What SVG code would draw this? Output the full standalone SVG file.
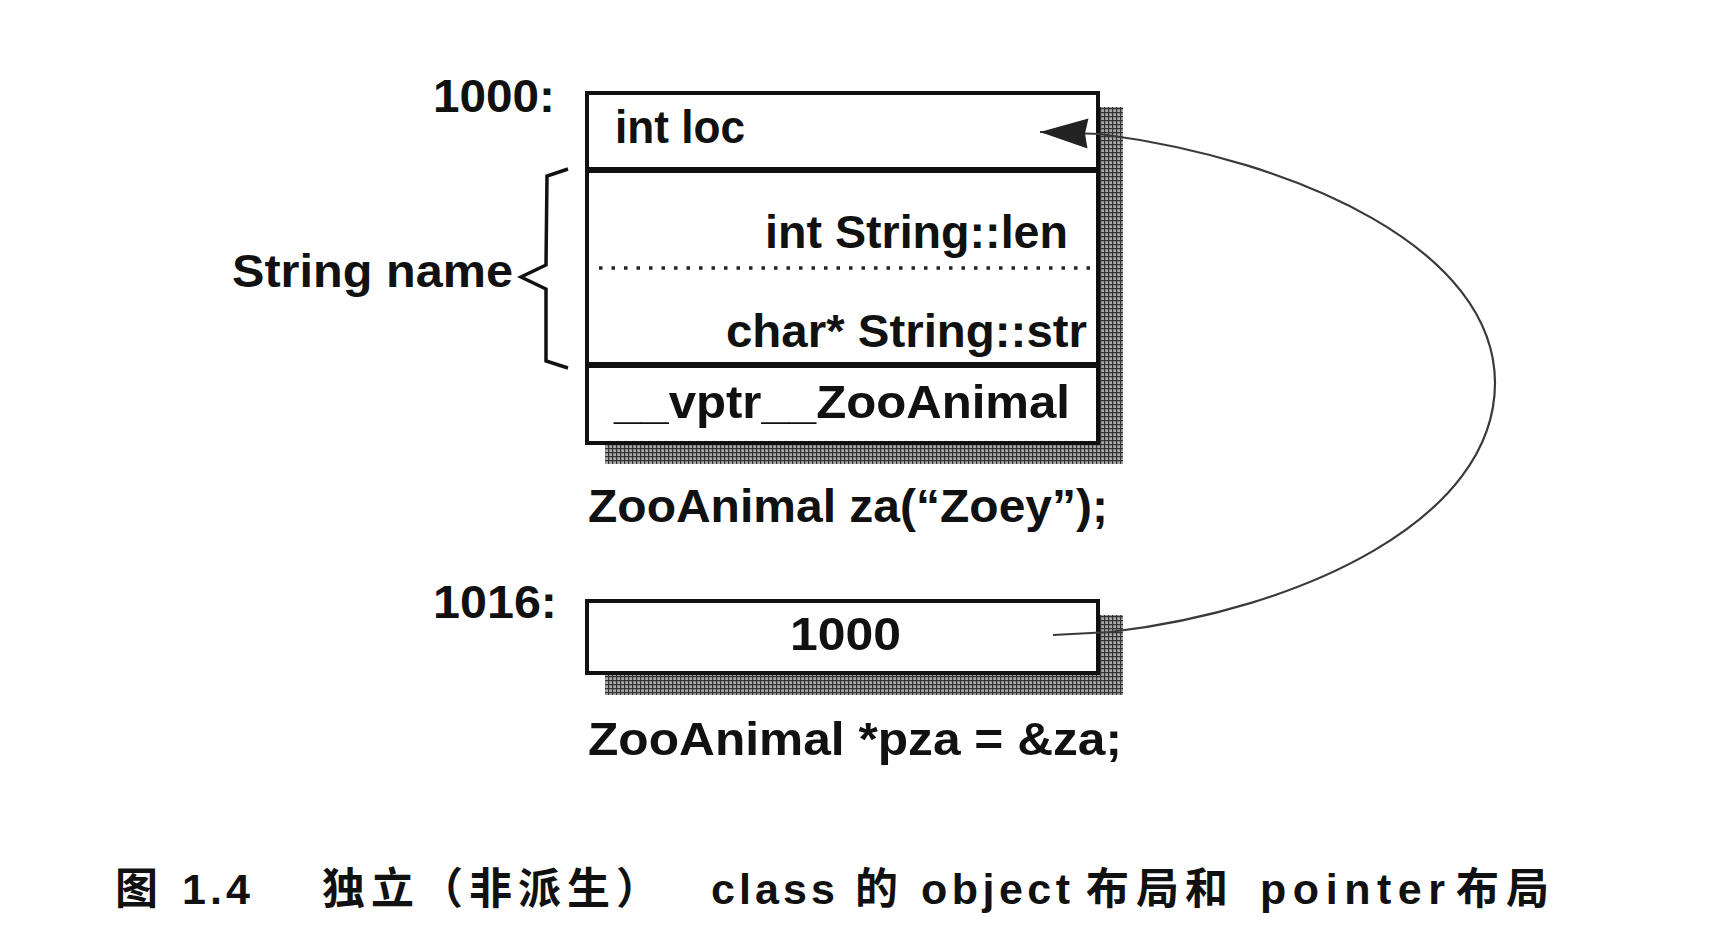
<svg xmlns="http://www.w3.org/2000/svg" width="1720" height="938" viewBox="0 0 1720 938">
<style>
  .t { font-family: "Liberation Sans", Arial, sans-serif; font-weight: bold; font-size: 47px; fill: #111; }
  .cap { font-family: "Liberation Sans", "Noto Sans CJK SC", sans-serif; font-weight: bold; font-size: 43px; fill: #111; }
  .box { fill: #fff; stroke: #111; stroke-width: 4; }
  .sep { stroke: #111; stroke-width: 6; fill: none; }
  .shadow { fill: url(#hatch); }
  .conn { fill: none; stroke: #3a3a3a; stroke-width: 2.2; }
</style>
<defs>
  <pattern id="hatch" width="4" height="4" patternUnits="userSpaceOnUse">
    <rect width="4" height="4" fill="#a8a8a8"/>
    <path d="M0,0.5 H4 M0.5,0 V4" stroke="#333" stroke-width="1.4"/>
  </pattern>
  <marker id="arrow" markerUnits="userSpaceOnUse" markerWidth="52" markerHeight="36" viewBox="-50 -18 52 36" refX="0" refY="0" orient="auto">
    <path d="M0,0 L-48,-15 L-45,0 L-48,15 Z" fill="#222"/>
  </marker>
</defs>
<rect width="1720" height="938" fill="#fff"/>

<g id="node-za">
  <rect class="shadow" x="605" y="107" width="518" height="357"/>
  <rect class="box" x="587" y="93" width="511" height="350"/>
  <line class="sep" x1="587" y1="170" x2="1098" y2="170"/>
  <line class="sep" x1="587" y1="365" x2="1098" y2="365"/>
  <line x1="599" y1="268" x2="1092" y2="268" stroke="#222" stroke-width="3.5" stroke-dasharray="3.5 9"/>
  <text class="t" x="615" y="143" textLength="130" lengthAdjust="spacingAndGlyphs">int loc</text>
  <text class="t" x="765" y="248" textLength="303" lengthAdjust="spacingAndGlyphs">int String::len</text>
  <text class="t" x="726" y="347" textLength="361" lengthAdjust="spacingAndGlyphs">char* String::str</text>
  <text class="t" x="614" y="418" textLength="456" lengthAdjust="spacingAndGlyphs">__vptr__ZooAnimal</text>
</g>

<g id="label-1000">
  <text class="t" x="433" y="112" textLength="122" lengthAdjust="spacingAndGlyphs">1000:</text>
</g>

<g id="label-string-name">
  <text class="t" x="232" y="287" textLength="281" lengthAdjust="spacingAndGlyphs">String name</text>
  <path d="M568,169 L547,176 L546,265 L521,277 L546,289 L546,361 L568,368" fill="none" stroke="#111" stroke-width="3.5" stroke-linejoin="miter"/>
</g>

<g id="label-za">
  <text class="t" x="588" y="522" textLength="520" lengthAdjust="spacingAndGlyphs">ZooAnimal za(“Zoey”);</text>
</g>

<g id="node-pza">
  <rect class="shadow" x="605" y="615" width="518" height="80"/>
  <rect class="box" x="587" y="601" width="511" height="72"/>
  <text class="t" x="790" y="650" textLength="111" lengthAdjust="spacingAndGlyphs">1000</text>
</g>

<g id="label-1016">
  <text class="t" x="433" y="618" textLength="124" lengthAdjust="spacingAndGlyphs">1016:</text>
</g>

<g id="label-pza">
  <text class="t" x="588" y="755" textLength="534" lengthAdjust="spacingAndGlyphs">ZooAnimal *pza = &amp;za;</text>
</g>

<g id="connectors">
  <path class="conn" marker-end="url(#arrow)" d="M1053,635 L1110,632 C1300,610 1495,520 1495,383 C1495,250 1300,160 1100,134 L1040,132"/>
</g>

<g id="caption">
  <text class="cap" x="115" y="904">图</text>
  <text class="cap" x="182" y="904" textLength="68" lengthAdjust="spacing">1.4</text>
  <text class="cap" x="322 371 420 469 518 567 616" y="904">独立（非派生）</text>
  <text class="cap" x="711" y="904" textLength="124" lengthAdjust="spacing">class</text>
  <text class="cap" x="855" y="904">的</text>
  <text class="cap" x="921" y="904" textLength="149" lengthAdjust="spacing">object</text>
  <text class="cap" x="1086 1136 1185" y="904">布局和</text>
  <text class="cap" x="1260" y="904" textLength="185" lengthAdjust="spacing">pointer</text>
  <text class="cap" x="1456 1506" y="904">布局</text>
</g>
</svg>
